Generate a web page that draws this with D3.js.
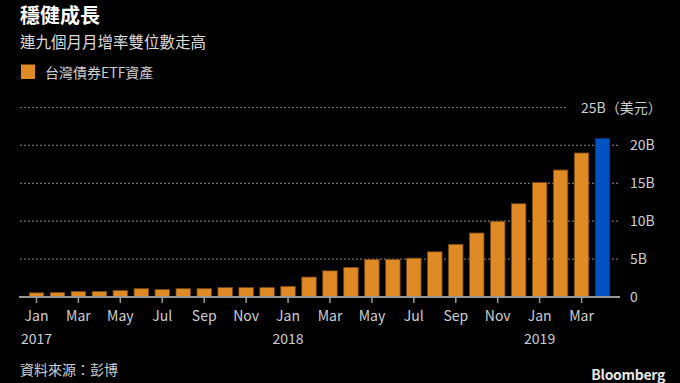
<!DOCTYPE html>
<html>
<head>
<meta charset="utf-8">
<script src="https://cdn.jsdelivr.net/npm/d3@7"></script>
<style>
html,body{margin:0;padding:0;background:#000;}
svg{display:block;}
text{font-family:"Noto Sans CJK TC","Noto Sans",sans-serif;}
</style>
</head>
<body>
<svg id="chart" width="680" height="383"></svg>
<script>
const months = ["Jan","Feb","Mar","Apr","May","Jun","Jul","Aug","Sep","Oct","Nov","Dec",
                "Jan","Feb","Mar","Apr","May","Jun","Jul","Aug","Sep","Oct","Nov","Dec",
                "Jan","Feb","Mar","Apr"];
const years = [2017,2017,2017,2017,2017,2017,2017,2017,2017,2017,2017,2017,
               2018,2018,2018,2018,2018,2018,2018,2018,2018,2018,2018,2018,
               2019,2019,2019,2019];
const assets = [0.55,0.58,0.72,0.72,0.85,1.1,0.98,1.1,1.1,1.24,1.24,1.24,
                1.4,2.63,3.45,3.9,4.95,4.95,5.12,5.96,6.94,8.44,9.98,12.3,
                15.1,16.75,19.0,20.9];
const yTicks = [0,5,10,15,20,25];
const yTickLabels = ["0","5B","10B","15B","20B","25B（美元）"];

const title = "穩健成長";
const subtitle = "連九個月月增率雙位數走高";
const legendLabel = "台灣債券ETF資產";
const source = "資料來源：彭博";

const svg = d3.select("#chart");
const keys = months.map((m,i)=>i);

const x = d3.scaleBand().domain(keys).range([26,613]).paddingInner(0.31).paddingOuter(0.155);
const y = d3.scaleLinear().domain([0,25]).range([297,107.5]);

// titles
svg.append("text").attr("x",20).attr("y",23).attr("fill","#fff")
  .attr("font-size",20).attr("font-weight","bold").text(title);
svg.append("text").attr("x",20).attr("y",48).attr("fill","#dcdcdc")
  .attr("font-size",15.5).text(subtitle);

// legend
svg.append("rect").attr("x",21).attr("y",64.5).attr("width",14).attr("height",14.5).attr("fill","#e08a26");
svg.append("text").attr("x",45).attr("y",77.5).attr("fill","#cfcfcf")
  .attr("font-size",14).text(legendLabel);

// grid
const grid = svg.append("g");
yTicks.filter(d=>d>0).forEach(d=>{
  grid.append("line")
    .attr("x1",20).attr("x2", d===25 ? 568 : 618)
    .attr("y1",y(d)).attr("y2",y(d))
    .attr("stroke","#707070").attr("stroke-width",1.2)
    .attr("stroke-dasharray","2,2");
});

// y labels
yTicks.forEach((d,i)=>{
  svg.append("text")
    .attr("x", d===25 ? 581 : 630)
    .attr("y", y(d)+5)
    .attr("fill","#cfcfcf").attr("font-size",14)
    .text(yTickLabels[i]);
});

// bars
svg.append("g").selectAll("rect").data(assets).join("rect")
  .attr("x",(d,i)=>x(i))
  .attr("width",x.bandwidth())
  .attr("y",d=>y(d))
  .attr("height",d=>y(0)-y(d))
  .attr("fill",(d,i)=> i===assets.length-1 ? "#0052c2" : "#e08a26")
  .attr("stroke",(d,i)=> i===assets.length-1 ? "#003a8c" : "#7a4a12")
  .attr("stroke-width",0.8);

// x axis
const xAxis = d3.axisBottom(x)
  .tickValues(keys.filter(i=>i%2===0))
  .tickFormat(i=>months[i])
  .tickSize(6).tickPadding(8);
const gx = svg.append("g").attr("transform",`translate(0,${y(0)})`).call(xAxis);
gx.select(".domain").remove();
gx.selectAll(".tick line").attr("stroke","#999").attr("stroke-width",1.5);
gx.selectAll(".tick text").attr("fill","#cfcfcf").attr("font-size",14)
  .attr("font-family",'"Noto Sans CJK TC","Noto Sans",sans-serif');

svg.append("line").attr("x1",19).attr("x2",620).attr("y1",y(0)).attr("y2",y(0))
  .attr("stroke","#999").attr("stroke-width",2);

// year labels
keys.filter(i=>months[i]==="Jan").forEach(i=>{
  svg.append("text").attr("x",x(i)+x.bandwidth()/2).attr("y",344)
    .attr("text-anchor","middle").attr("fill","#cfcfcf").attr("font-size",14)
    .text(years[i]);
});

// source
svg.append("text").attr("x",20).attr("y",375).attr("fill","#cfcfcf")
  .attr("font-size",14).text(source);
svg.append("text").attr("x",665).attr("y",380).attr("text-anchor","end")
  .attr("fill","#e6e6e6").attr("font-size",14).attr("font-weight","bold")
  .attr("font-family","Liberation Sans, Arial, sans-serif")
  .attr("letter-spacing","-0.3").text("Bloomberg");
</script>
</body>
</html>
